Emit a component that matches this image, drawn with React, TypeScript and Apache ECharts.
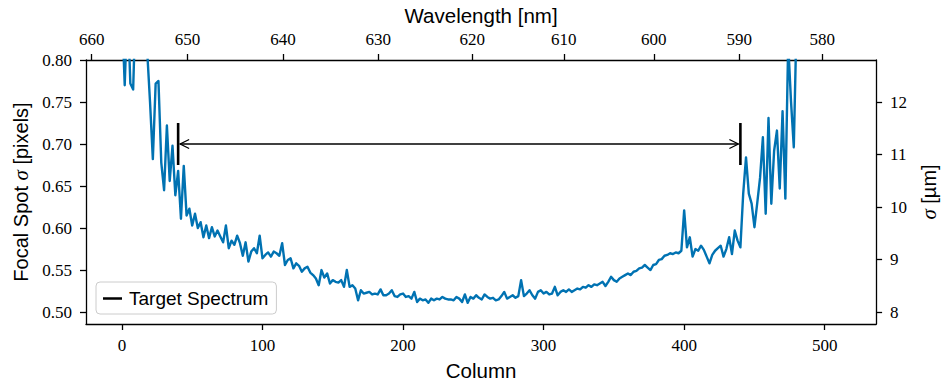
import React, { useEffect, useRef } from "react";
import * as echarts from "echarts";

// Column index step between consecutive samples
const COLUMN_STEP = 2;

// Focal spot sigma [pixels] per sampled column (0, 2, 4, ... 510)
const SIGMA_PX = [
  0.86, 0.77, 0.87, 0.772, 0.765, 0.88, 0.92, 0.9, 0.95, 0.81,
  0.75, 0.682, 0.772, 0.775, 0.678, 0.645, 0.722, 0.656, 0.698, 0.639,
  0.668, 0.611, 0.674, 0.615, 0.623, 0.603, 0.617, 0.6, 0.607, 0.589,
  0.603, 0.588, 0.601, 0.59, 0.597, 0.59, 0.583, 0.603, 0.576, 0.585,
  0.58, 0.591, 0.582, 0.567, 0.583, 0.56, 0.572, 0.576, 0.57, 0.591,
  0.564, 0.568, 0.571, 0.566, 0.572, 0.57, 0.567, 0.582, 0.556, 0.562,
  0.564, 0.552, 0.558, 0.555, 0.548, 0.552, 0.554, 0.547, 0.544, 0.54,
  0.532, 0.55, 0.541, 0.546, 0.534, 0.538, 0.536, 0.535, 0.538, 0.53,
  0.55, 0.53, 0.532, 0.528, 0.514, 0.526, 0.522, 0.523, 0.524, 0.521,
  0.522, 0.521, 0.527, 0.52, 0.52, 0.522, 0.526, 0.519, 0.518, 0.521,
  0.522, 0.518, 0.519, 0.516, 0.524, 0.512, 0.516, 0.514, 0.515, 0.511,
  0.516, 0.514, 0.516, 0.515, 0.518, 0.516, 0.515, 0.515, 0.514, 0.518,
  0.516, 0.512, 0.521, 0.511, 0.518, 0.516, 0.52, 0.517, 0.515, 0.521,
  0.518, 0.516, 0.517, 0.514, 0.515, 0.519, 0.524, 0.516, 0.518, 0.52,
  0.517, 0.519, 0.538, 0.519, 0.522, 0.526, 0.52, 0.516, 0.524, 0.526,
  0.522, 0.524, 0.521, 0.522, 0.53, 0.52, 0.524, 0.526, 0.524, 0.527,
  0.524, 0.526, 0.528, 0.527, 0.53, 0.529, 0.532, 0.53, 0.533, 0.532,
  0.534, 0.536, 0.531, 0.536, 0.542, 0.538, 0.536, 0.54, 0.542, 0.544,
  0.546, 0.544, 0.548, 0.549, 0.552, 0.553, 0.556, 0.553, 0.55, 0.556,
  0.557, 0.562, 0.563, 0.567, 0.568, 0.57, 0.569, 0.571, 0.57, 0.573,
  0.621, 0.577, 0.589, 0.566, 0.575, 0.573, 0.579, 0.574, 0.566, 0.558,
  0.568, 0.573, 0.576, 0.579, 0.566, 0.575, 0.589, 0.569, 0.597, 0.585,
  0.577, 0.641, 0.684, 0.641, 0.629, 0.601, 0.63, 0.66, 0.708, 0.617,
  0.731, 0.629, 0.692, 0.716, 0.647, 0.739, 0.635, 0.82, 0.751, 0.696,
  0.85, 0.84, 0.88, 0.9, 0.93, 0.95, 0.97, 1.0, 1.02, 1.05,
  1.08, 1.1, 1.13, 1.16, 1.2, 1.24,
];

const X_TICKS = [0, 100, 200, 300, 400, 500];
const Y_TICKS = [0.5, 0.55, 0.6, 0.65, 0.7, 0.75, 0.8];
const UM_TICKS = [8, 9, 10, 11, 12];
const PX_TO_UM = 16;

// Top axis: wavelength tick labels and the column at which each sits
const WAVE_LABELS = [660, 650, 640, 630, 620, 610, 600, 590, 580];
const WAVE_TICK_COLUMNS = [-21.5, 46.7, 114.6, 182.3, 249.3, 314.4, 378.4, 439.2, 498.2];

// Target spectrum range
const TARGET_COLUMNS = [40, 440];
const TARGET_CENTER = 0.7;
const TARGET_HALF = 0.025;

const X_MIN = -25.55;
const X_MAX = 536.55;
const Y_MIN = 0.4858;
const Y_MAX = 0.8;

const TICK_FONT = {
  fontFamily: "'Liberation Serif', 'DejaVu Serif', serif",
  fontSize: 17,
  color: "#000",
};
const NAME_FONT = {
  fontFamily: "'Liberation Sans', Arial, sans-serif",
  fontSize: 20.5,
  color: "#000",
};
const AXIS_LINE = { show: true, onZero: false, lineStyle: { color: "#000", width: 1.3 } };

export default function App() {
  const ref = useRef<HTMLDivElement>(null);

  useEffect(() => {
    if (!ref.current) return;
    const chart = echarts.init(ref.current, undefined, { renderer: "svg", width: 947, height: 386 });

    const lineData = SIGMA_PX.map((v, i) => [i * COLUMN_STEP, v]);
    const fmtNum = (v: number, d: number) => v.toFixed(d);
    const waveLabel = (v: number) => {
      let best = 0;
      let bd = Infinity;
      WAVE_TICK_COLUMNS.forEach((c, i) => {
        const d = Math.abs(c - v);
        if (d < bd) {
          bd = d;
          best = i;
        }
      });
      return String(WAVE_LABELS[best]);
    };
    const sigmaRich = {
      s: { fontFamily: "'Liberation Serif', serif", fontStyle: "italic", fontSize: 21, color: "#000" },
    };

    const option: any = {
      animation: false,
      backgroundColor: "#fff",
      grid: { left: 86, width: 798, top: 59, height: 265, containLabel: false },
      legend: {
        show: true,
        data: [{ name: "Target Spectrum", icon: "rect", itemStyle: { color: "#000" } }],
        left: 96,
        top: 282,
        itemWidth: 19,
        itemHeight: 2.5,
        padding: [7, 8, 6, 7],
        backgroundColor: "rgba(255,255,255,0.85)",
        borderColor: "#cccccc",
        borderWidth: 1,
        borderRadius: 4,
        selectedMode: false,
        textStyle: { ...NAME_FONT, fontSize: 19, padding: [0, 0, 0, 2] },
      },
      xAxis: [
        {
          type: "value",
          position: "bottom",
          min: X_MIN,
          max: X_MAX,
          name: "Column",
          nameLocation: "middle",
          nameGap: 36,
          nameTextStyle: NAME_FONT,
          axisLine: AXIS_LINE,
          axisTick: { show: true, inside: false, length: 6, customValues: X_TICKS, lineStyle: { color: "#000", width: 1.3 } },
          axisLabel: { customValues: X_TICKS, margin: 13, ...TICK_FONT, formatter: (v: number) => String(v) },
          splitLine: { show: false },
        },
        {
          type: "value",
          position: "top",
          min: X_MIN,
          max: X_MAX,
          name: "Wavelength [nm]",
          nameLocation: "middle",
          nameGap: 34,
          nameTextStyle: NAME_FONT,
          axisLine: AXIS_LINE,
          axisTick: { show: true, inside: false, length: 6, customValues: WAVE_TICK_COLUMNS, lineStyle: { color: "#000", width: 1.3 } },
          axisLabel: { customValues: WAVE_TICK_COLUMNS, margin: 12, ...TICK_FONT, formatter: waveLabel },
          splitLine: { show: false },
        },
      ],
      yAxis: [
        {
          type: "value",
          position: "left",
          min: Y_MIN,
          max: Y_MAX,
          name: "Focal Spot {s|σ} [pixels]",
          nameLocation: "middle",
          nameRotate: 90,
          nameGap: 54,
          nameTextStyle: { ...NAME_FONT, fontSize: 20, rich: sigmaRich },
          axisLine: AXIS_LINE,
          axisTick: { show: true, inside: false, length: 6, customValues: Y_TICKS, lineStyle: { color: "#000", width: 1.3 } },
          axisLabel: { customValues: Y_TICKS, margin: 14, ...TICK_FONT, formatter: (v: number) => fmtNum(v, 2) },
          splitLine: { show: false },
        },
        {
          type: "value",
          position: "right",
          min: Y_MIN * PX_TO_UM,
          max: Y_MAX * PX_TO_UM,
          name: "{s|σ} [µm]",
          nameLocation: "middle",
          nameRotate: 90,
          nameGap: 40,
          nameTextStyle: { ...NAME_FONT, fontSize: 20, rich: sigmaRich },
          axisLine: AXIS_LINE,
          axisTick: { show: true, inside: false, length: 6, customValues: UM_TICKS, lineStyle: { color: "#000", width: 1.3 } },
          axisLabel: { customValues: UM_TICKS, margin: 14, ...TICK_FONT, formatter: (v: number) => String(v) },
          splitLine: { show: false },
        },
      ],
      series: [
        {
          type: "line",
          name: "Focal spot",
          xAxisIndex: 0,
          yAxisIndex: 0,
          data: lineData,
          showSymbol: false,
          symbol: "none",
          clip: true,
          lineStyle: { color: "#0072b2", width: 2.4, join: "round" },
          itemStyle: { color: "#0072b2" },
          z: 3,
        },
        {
          type: "custom",
          name: "Target Spectrum",
          xAxisIndex: 0,
          yAxisIndex: 0,
          data: TARGET_COLUMNS.map((c) => [c, TARGET_CENTER - TARGET_HALF, TARGET_CENTER + TARGET_HALF]),
          encode: { x: 0, y: [1, 2] },
          itemStyle: { color: "#000" },
          renderItem: (_p: any, api: any) => {
            const lo = api.coord([api.value(0), api.value(1)]);
            const hi = api.coord([api.value(0), api.value(2)]);
            return {
              type: "line",
              shape: { x1: lo[0], y1: lo[1], x2: hi[0], y2: hi[1] },
              style: { stroke: "#000", lineWidth: 2.6 },
            };
          },
          z: 5,
        },
        {
          type: "custom",
          name: "range-arrow",
          xAxisIndex: 0,
          yAxisIndex: 0,
          data: [[TARGET_COLUMNS[0], TARGET_COLUMNS[1], TARGET_CENTER]],
          encode: { x: [0, 1], y: 2 },
          renderItem: (_p: any, api: any) => {
            const a = api.coord([api.value(0), api.value(2)]);
            const b = api.coord([api.value(1), api.value(2)]);
            const L = 9;
            const H = 4.5;
            const ax = a[0] + 2;
            const bx = b[0] - 2;
            const st = { stroke: "#000", lineWidth: 1.3, fill: "none" };
            return {
              type: "group",
              children: [
                { type: "line", shape: { x1: ax, y1: a[1], x2: bx, y2: b[1] }, style: st },
                { type: "polyline", shape: { points: [[ax + L, a[1] - H], [ax, a[1]], [ax + L, a[1] + H]] }, style: st },
                { type: "polyline", shape: { points: [[bx - L, b[1] - H], [bx, b[1]], [bx - L, b[1] + H]] }, style: st },
              ],
            };
          },
          z: 4,
        },
      ],
    };

    chart.setOption(option);
    return () => chart.dispose();
  }, []);

  return (
    <div
      ref={ref}
      style={{ position: "fixed", left: 0, top: 0, width: 947, height: 386, background: "#fff" }}
    />
  );
}
